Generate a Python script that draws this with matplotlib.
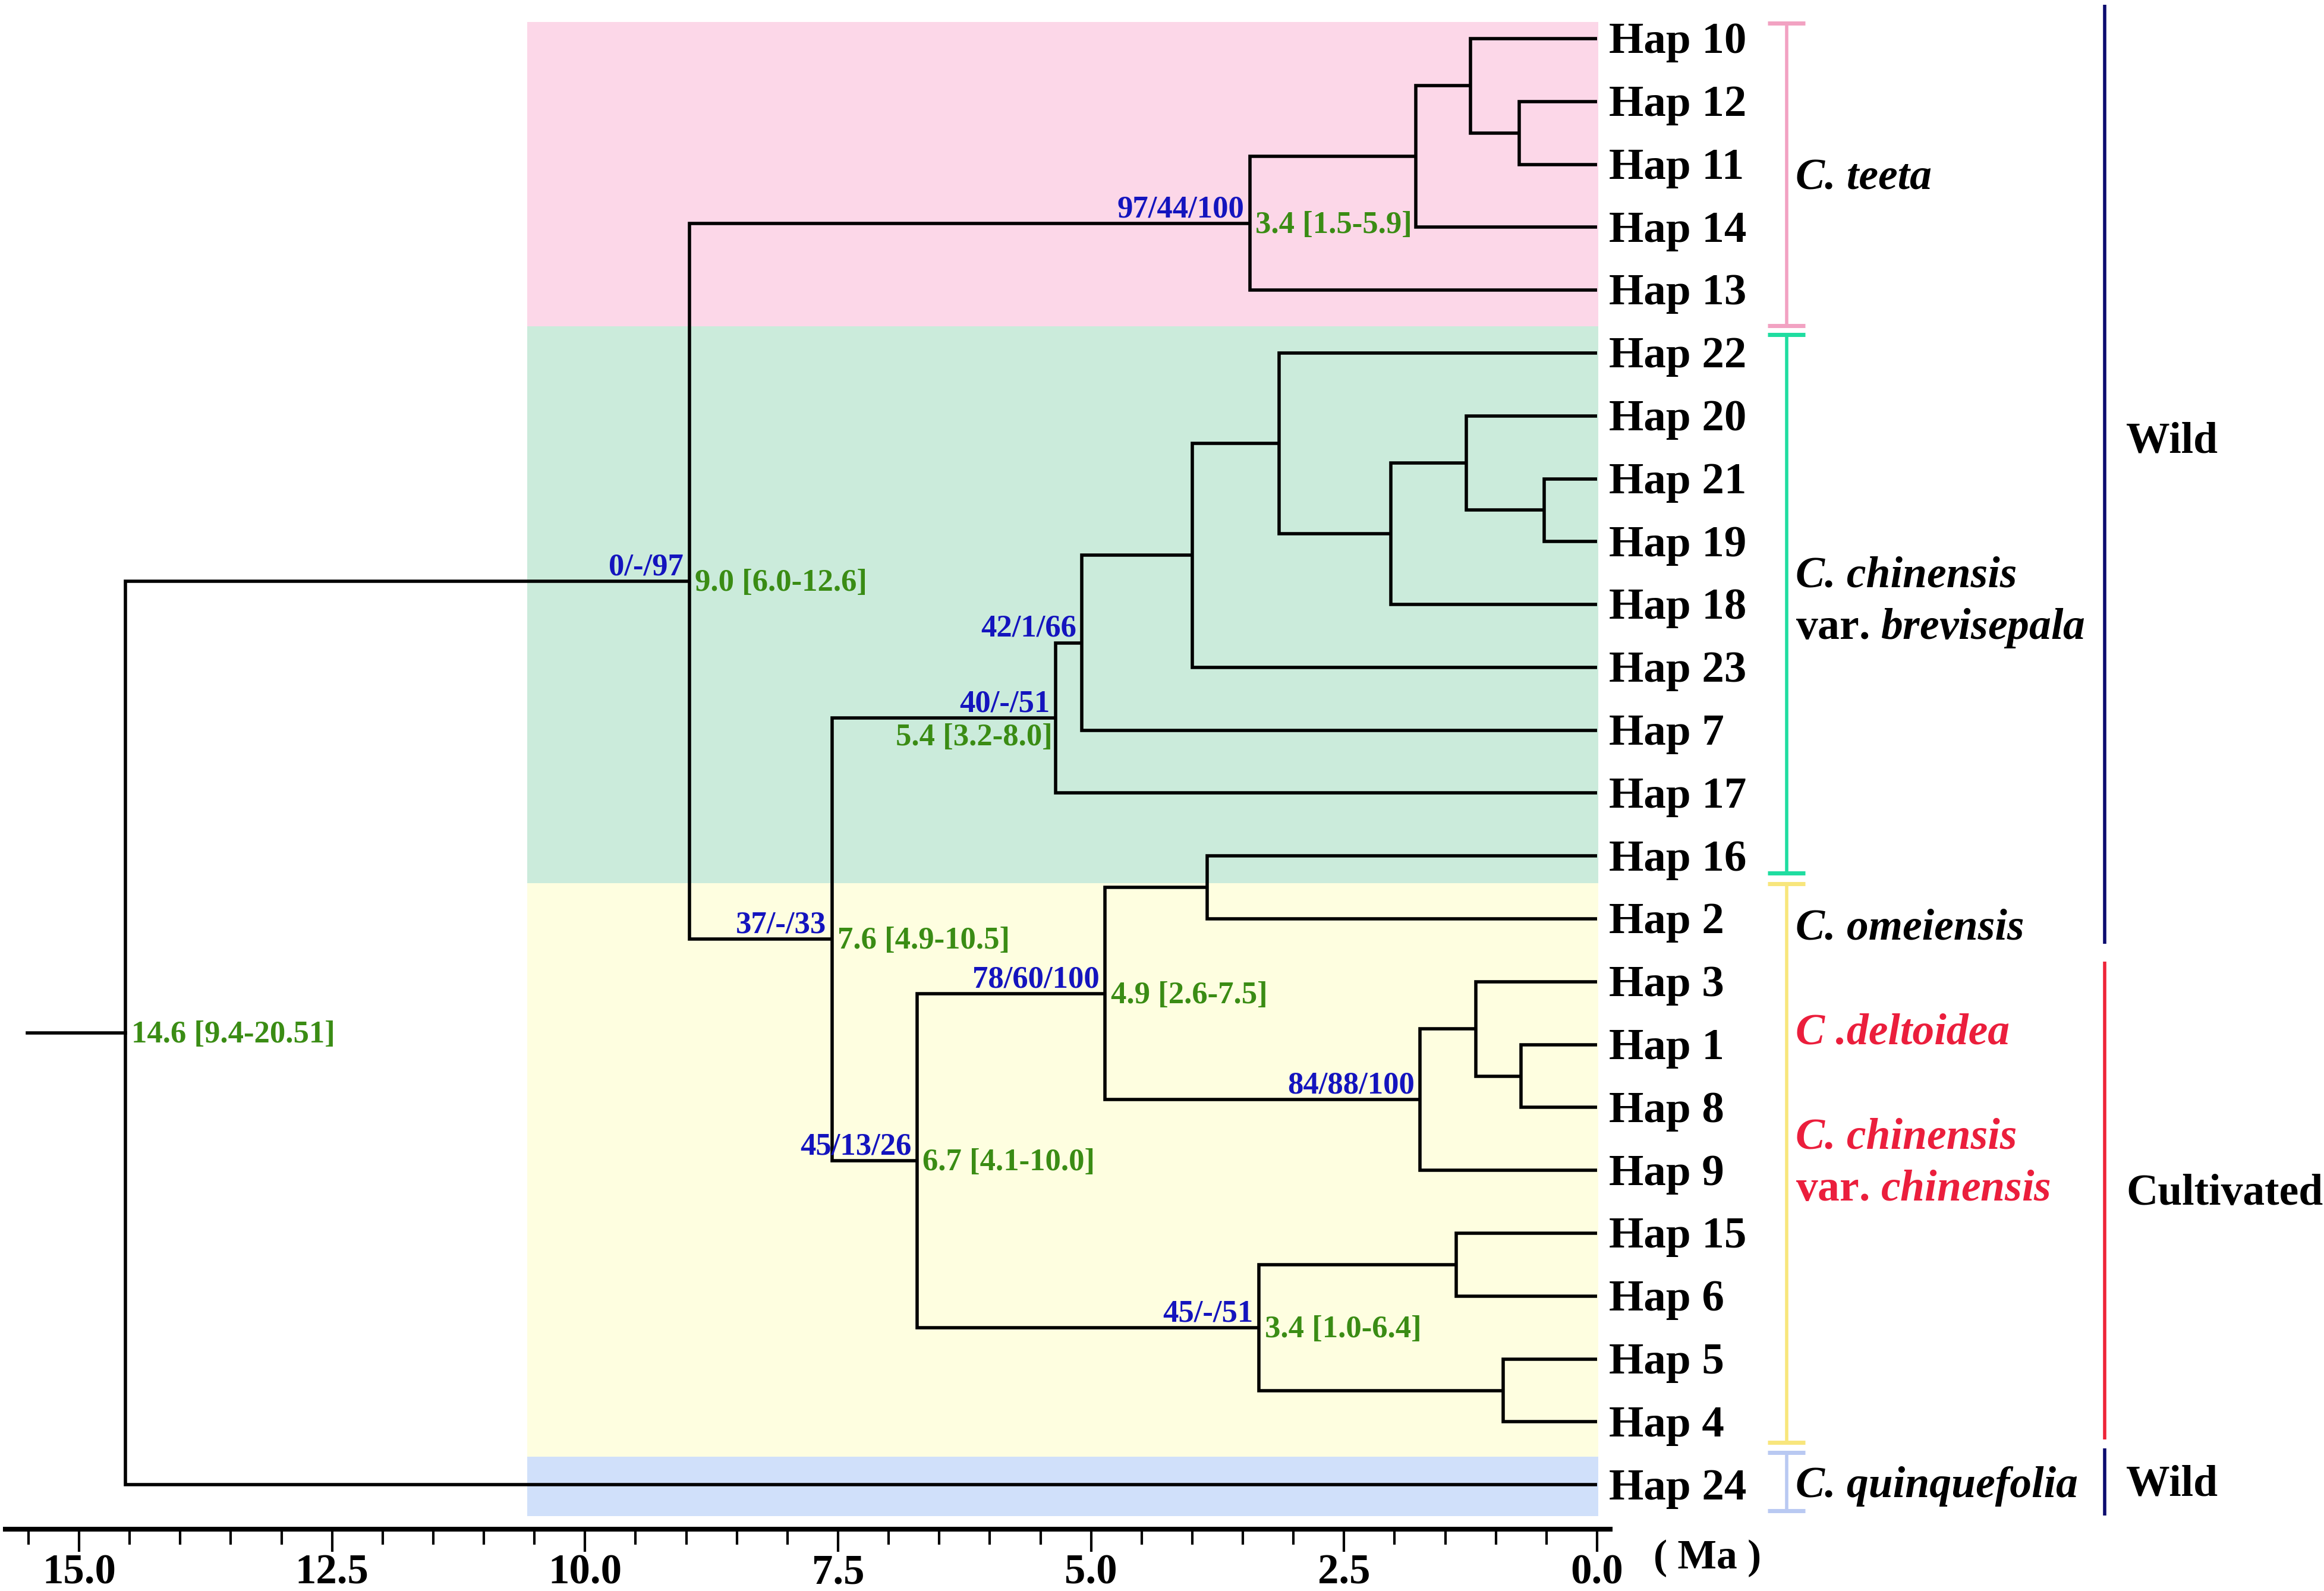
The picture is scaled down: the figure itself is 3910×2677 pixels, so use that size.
import matplotlib
matplotlib.use("Agg")
import matplotlib.pyplot as plt
from matplotlib.patches import Rectangle
import numpy as np

plt.rcParams['font.family'] = ['Liberation Serif', 'DejaVu Serif']
plt.rcParams['font.weight'] = 'bold'
plt.rcParams['mathtext.fontset'] = 'custom'
plt.rcParams['mathtext.it'] = 'Liberation Serif:italic:bold'
plt.rcParams['mathtext.rm'] = 'Liberation Serif:bold'

# ---------------- data ----------------
leaves = ['Hap 10', 'Hap 12', 'Hap 11', 'Hap 14', 'Hap 13',
          'Hap 22', 'Hap 20', 'Hap 21', 'Hap 19', 'Hap 18', 'Hap 23', 'Hap 7', 'Hap 17', 'Hap 16',
          'Hap 2', 'Hap 3', 'Hap 1', 'Hap 8', 'Hap 9', 'Hap 15', 'Hap 6', 'Hap 5', 'Hap 4',
          'Hap 24']

# internal nodes: name, age (Ma), children
node_names = ['root', 'n90', 'n34t', 'n18t', 'n125t', 'n077t', 'n76', 'n54', 'n51', 'n40',
              'n314', 'n204', 'n129', 'n052', 'n67', 'n49', 'n385', 'n175', 'n120', 'n075',
              'n334', 'n139', 'n093']
node_ages = [14.54, 8.97, 3.43, 1.79, 1.25, 0.77, 7.56, 5.35, 5.09, 4.00,
             3.14, 2.04, 1.29, 0.52, 6.72, 4.86, 3.85, 1.75, 1.20, 0.75,
             3.34, 1.39, 0.93]
node_children = [['n90', 'Hap 24'], ['n34t', 'n76'], ['n18t', 'Hap 13'], ['n125t', 'Hap 14'],
                 ['Hap 10', 'n077t'], ['Hap 12', 'Hap 11'], ['n54', 'n67'], ['n51', 'Hap 17'],
                 ['n40', 'Hap 7'], ['n314', 'Hap 23'], ['Hap 22', 'n204'], ['n129', 'Hap 18'],
                 ['Hap 20', 'n052'], ['Hap 21', 'Hap 19'], ['n49', 'n334'], ['n385', 'n175'],
                 ['Hap 16', 'Hap 2'], ['n120', 'Hap 9'], ['Hap 3', 'n075'], ['Hap 1', 'Hap 8'],
                 ['n139', 'n093'], ['Hap 15', 'Hap 6'], ['Hap 5', 'Hap 4']]
root_stem_age = 15.51

support_nodes = ['n34t', 'n90', 'n51', 'n54', 'n76', 'n49', 'n175', 'n67', 'n334']
support_labels = ['97/44/100', '0/-/97', '42/1/66', '40/-/51', '37/-/33', '78/60/100',
                  '84/88/100', '45/13/26', '45/-/51']
date_nodes = ['n34t', 'n90', 'n54', 'n76', 'n49', 'n67', 'n334', 'root']
date_labels = ['3.4 [1.5-5.9]', '9.0 [6.0-12.6]', '5.4 [3.2-8.0]', '7.6 [4.9-10.5]',
               '4.9 [2.6-7.5]', '6.7 [4.1-10.0]', '3.4 [1.0-6.4]', '14.6 [9.4-20.51]']

major_ticks = [0.0, 2.5, 5.0, 7.5, 10.0, 12.5, 15.0]
minor_ticks = np.arange(0, 15.51, 0.5)
axis_label = '( Ma )'

# ---------------- layout / styles ----------------
LW = 4.0
band_bounds = [(-0.265, 4.575), (4.575, 13.43), (13.43, 22.55), (22.55, 23.5)]
band_colors = ['#FCD7E8', '#CBEBDB', '#FEFEE0', '#D0E0FA']
band_x = (10.57, -0.01)
bracket_bounds = [(-0.25, 4.57), (4.71, 13.27), (13.44, 22.33), (22.49, 23.41)]
bracket_colors = ['#F2A2C2', '#1FDDA0', '#F8E67C', '#B9C9F2']
bracket_x = -1.873
bracket_hw = 0.185
group_bounds = [(-0.54, 14.40), (14.68, 22.28), (22.42, 23.49)]
group_colors = ['#0C0C6E', '#EE2438', '#0C0C6E']
group_x = -5.016
BLUE = '#1414BE'
GREEN = '#3A8C14'
RED = '#EB1E3C'
AFS = 38

fig = plt.figure(figsize=(39.1, 26.77), dpi=100)
ax = fig.add_axes([0, 0, 1, 1])
ax.set_xlim(15.781, -7.183)
ax.set_ylim(24.69, -0.614)
ax.patch.set_alpha(0)

# backgrounds
for (y0, y1), c in zip(band_bounds, band_colors):
    ax.add_patch(Rectangle((band_x[1], y0), band_x[0] - band_x[1], y1 - y0,
                           facecolor=c, edgecolor='none', zorder=0))

# tree
age = {n: a for n, a in zip(node_names, node_ages)}
kids = {n: c for n, c in zip(node_names, node_children)}
for i, l in enumerate(leaves):
    age[l] = 0.0
ypos = {l: float(i) for i, l in enumerate(leaves)}

def gety(n):
    if n in ypos:
        return ypos[n]
    ys = [gety(c) for c in kids[n]]
    ypos[n] = (min(ys) + max(ys)) / 2.0
    return ypos[n]

gety('root')
for n in node_names:
    c1, c2 = kids[n]
    ax.plot([age[c1], age[n], age[n], age[c2]], [ypos[c1], ypos[c1], ypos[c2], ypos[c2]],
            color='black', lw=LW, solid_joinstyle='miter', solid_capstyle='butt', zorder=3)
ax.plot([root_stem_age, age['root']], [ypos['root'], ypos['root']], color='black', lw=LW, zorder=3)

# leaf labels
for l in leaves:
    ax.text(-0.12, ypos[l] + 0.23, l, fontsize=54, fontweight='bold', ha='left', va='baseline')

# support / date labels
for n, s in zip(support_nodes, support_labels):
    ax.text(age[n] + 0.055, ypos[n] - 0.1, s, color=BLUE, fontsize=AFS, fontweight='bold',
            ha='right', va='baseline', zorder=5)
for n, s in zip(date_nodes, date_labels):
    if n == 'n54':
        ax.text(age[n] + 0.03, ypos[n] + 0.43, s, color=GREEN, fontsize=AFS, fontweight='bold',
                ha='right', va='baseline', zorder=5)
    else:
        ax.text(age[n] - 0.055, ypos[n] + 0.15, s, color=GREEN, fontsize=AFS, fontweight='bold',
                ha='left', va='baseline', zorder=5)

# brackets
for (y0, y1), c in zip(bracket_bounds, bracket_colors):
    ax.plot([bracket_x, bracket_x], [y0, y1], color=c, lw=LW, solid_capstyle='butt')
    for yy in (y0, y1):
        ax.plot([bracket_x + bracket_hw, bracket_x - bracket_hw], [yy, yy], color=c, lw=LW + 1,
                solid_capstyle='butt')
for (y0, y1), c in zip(group_bounds, group_colors):
    ax.plot([group_x, group_x], [y0, y1], color=c, lw=LW, solid_capstyle='butt')

# clade labels
tx = -1.96
fs = 53
ax.text(tx, 2.40, 'C. teeta', fontsize=fs, fontweight='bold', fontstyle='italic')
ax.text(tx, 8.72, 'C. chinensis', fontsize=fs, fontweight='bold', fontstyle='italic')
ax.text(tx, 9.55, r'var. $\mathit{brevisepala}$', fontsize=fs, fontweight='bold')
ax.text(tx, 14.33, 'C. omeiensis', fontsize=fs, fontweight='bold', fontstyle='italic')
ax.text(tx, 15.99, 'C .deltoidea', fontsize=fs, fontweight='bold', fontstyle='italic', color=RED)
ax.text(tx, 17.65, 'C. chinensis', fontsize=fs, fontweight='bold', fontstyle='italic', color=RED)
ax.text(tx, 18.48, r'var. $\mathit{chinensis}$', fontsize=fs, fontweight='bold', color=RED)
ax.text(tx, 23.20, 'C. quinquefolia', fontsize=fs, fontweight='bold', fontstyle='italic')
gx = -5.23
ax.text(gx, 6.58, 'Wild', fontsize=fs, fontweight='bold')
ax.text(gx, 18.55, 'Cultivated', fontsize=fs, fontweight='bold')
ax.text(gx, 23.17, 'Wild', fontsize=fs, fontweight='bold')
ax.text(-0.56, 24.33, axis_label, fontsize=50, fontweight='bold')

# time axis using bottom spine
for s in ['top', 'right', 'left']:
    ax.spines[s].set_visible(False)
ax.spines['bottom'].set_position(('data', 23.71))
ax.spines['bottom'].set_bounds(15.73, -0.13)
ax.spines['bottom'].set_linewidth(5.8)
ax.set_yticks([])
ax.set_xticks(major_ticks)
ax.set_xticklabels([f'{t:.1f}' for t in major_ticks])
ax.set_xticks(minor_ticks, minor=True)
ax.tick_params(axis='x', which='major', direction='out', length=27, width=3, pad=3,
               labelsize=51)
ax.tick_params(axis='x', which='minor', direction='out', length=19, width=3)
for lab in ax.get_xticklabels():
    lab.set_fontweight('bold')

fig.savefig('out.png', dpi=100)
